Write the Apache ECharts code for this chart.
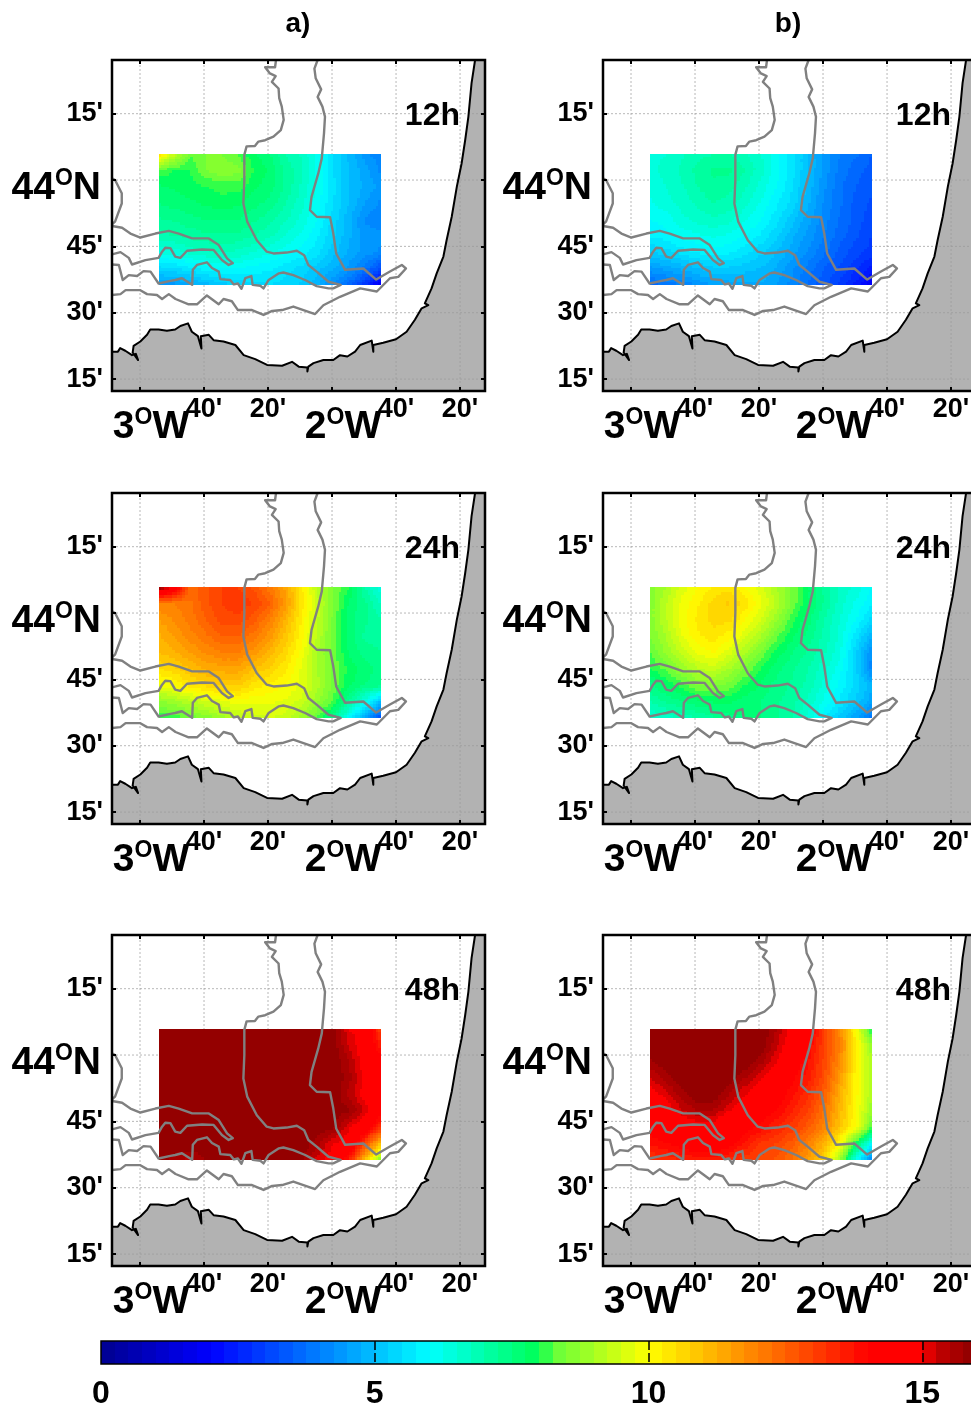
<!DOCTYPE html>
<html><head><meta charset="utf-8"><title>Chart</title>
<style>html,body{margin:0;padding:0;background:#fff;overflow:hidden}#c{width:971px;height:1408px;filter:blur(0.45px)}</style>
<script src="https://cdn.jsdelivr.net/npm/echarts@6/dist/echarts.min.js"></script>
</head><body><div id="c"></div>
<script>
// All map coordinates are arc-minutes east of 3 deg W and north of 44 deg N.
const lonMin = -8.75, lonMax = 107.8, latMin = -47.7, latMax = 27.14;
const lonTicks = [0, 20, 40, 60, 80, 100];
const lonTickLabels = ["", "40'", "20'", "", "40'", "20'"];
const lonDegTicks = [0, 60];
const lonDegLabels = ["3", "2"];
const latTicks = [15, 0, -15, -30, -45];
const latTickLabels = ["15'", "", "45'", "30'", "15'"];
const latDegTicks = [0];
const panelTitles = ["a)", "b)"];
const hourLabels = ["12h", "24h", "48h"];
const colorbarTicks = [0, 5, 10, 15];

const coast = [[-8.75,-38.8],[-6.9,-38.8],[-6.2,-38.0],[-4.6,-38.6],[-2.5,-39.6],[-1.3,-39.3],[-0.6,-40.7],[-2.3,-39.0],[-2.0,-37.5],[0.1,-36.5],[2.2,-35.0],[3.2,-33.8],[5.8,-33.8],[8.4,-34.1],[11.0,-33.8],[12.6,-33.0],[15.0,-32.4],[16.2,-34.3],[18.1,-35.3],[19.2,-38.1],[19.0,-35.3],[21.5,-35.0],[23.0,-36.2],[26.1,-36.5],[29.8,-37.3],[32.4,-39.6],[36.0,-40.5],[39.7,-41.8],[44.4,-42.0],[47.5,-41.1],[49.6,-42.2],[52.3,-42.4],[52.3,-43.3],[52.6,-42.2],[54.2,-41.4],[57.3,-40.7],[60.4,-40.7],[62.5,-39.6],[64.8,-39.9],[67.2,-38.8],[68.8,-37.3],[72.4,-36.3],[72.9,-38.8],[72.9,-37.3],[76.0,-36.8],[80.0,-36.0],[83.3,-34.3],[85.9,-31.6],[88.0,-29.0],[90.1,-28.3],[89.0,-27.9],[91.1,-24.5],[92.7,-21.1],[94.8,-17.3],[95.8,-13.6],[97.4,-8.3],[99.0,-1.5],[100.5,3.8],[101.6,9.0],[102.6,14.3],[103.6,21.9],[104.7,27.14]];
const landCorners = [[107.8,27.14],[107.8,-47.7],[-8.75,-47.7]];

const isobathA = [[42.5,27.14],[42.2,25.5],[39.1,25.5],[40.6,24.1],[42.4,23.5],[41.2,22.2],[43.3,20.7],[43.5,18.5],[44.3,16.6],[44.9,13.6],[44.0,11.3],[41.7,9.8],[39.1,9.0],[37.0,8.7],[35.9,7.7],[33.3,7.6],[32.6,5.7],[32.6,0],[32.3,-5.3],[33.5,-9.4],[36.5,-13.6],[39.6,-16.2],[41.7,-16.6],[45.8,-16.4],[49.0,-16.0],[51.3,-17.0],[52.6,-19.2],[55.2,-20.7],[58.9,-23.0],[62.7,-23.7],[60.4,-24.5],[58.9,-24.5],[55.2,-24.0],[51.6,-22.6],[47.9,-21.5],[44.8,-20.9],[43.4,-21.1],[40.2,-22.6],[38.6,-24.5],[37.6,-23.9],[35.2,-23.7],[34.8,-21.7],[32.9,-22.2],[31.7,-24.6],[30.6,-23.4],[29.3,-23.6],[28.2,-22.6],[25.1,-22.4],[24.6,-20.7],[22.5,-19.9],[20.9,-18.6],[17.8,-19.2],[16.5,-20.3],[16.3,-23.7],[13.1,-22.2],[11.0,-22.6],[9.5,-22.8],[5.8,-23.4],[3.3,-20.7],[1.1,-20.6],[-0.9,-21.7],[-3.5,-21.5],[-5.4,-22.6],[-6.6,-19.2],[-8.75,-19.1]];
const isobathB = [[55.5,27.14],[54.5,25.2],[54.9,23.0],[56.6,20.5],[55.5,18.8],[57.0,16.6],[57.8,14.3],[57.5,10.6],[56.8,4.9],[55.7,1.5],[53.6,-3.8],[53.1,-6.8],[55.2,-8.3],[59.4,-8.4],[60.4,-12.1],[61.3,-16.6],[64.1,-20.3],[69.8,-20.0],[73.8,-22.5],[78.1,-20.7],[81.8,-19.2],[83.1,-20.0],[80.7,-21.9],[78.1,-22.2],[74.0,-25.2],[68.8,-24.5],[62.5,-26.4],[57.3,-28.3],[54.7,-30.3],[47.9,-28.6],[44.4,-29.4],[41.3,-29.6],[38.6,-30.5],[35.0,-29.4],[30.6,-29.4],[28.7,-27.4],[26.1,-26.9],[24.6,-28.1],[20.9,-26.1],[17.8,-28.1],[15.2,-28.1],[11.1,-26.9],[9.0,-25.8],[6.9,-26.9],[5.3,-26.0],[2.2,-25.8],[0.1,-24.9],[-4.5,-24.9],[-6.1,-25.8],[-8.75,-26.0]];
const isobathC = [[-8.75,-10.0],[-7.8,-9.4],[-5.7,-5.3],[-5.7,-3.0],[-7.8,0],[-8.75,0.4]];
const isobathD = [[-8.75,-10.4],[-5.6,-10.8],[-3.0,-12.1],[0.1,-13.0],[4.8,-12.1],[9.0,-11.5],[12.1,-12.1],[16.3,-13.2],[21.5,-13.2],[24.6,-14.7],[27.2,-17.7],[29.0,-18.8],[27.7,-19.2],[25.6,-18.1],[23.0,-15.8],[19.4,-15.7],[14.7,-16.0],[12.6,-17.6],[11.0,-17.3],[9.5,-15.4],[7.9,-15.3],[6.9,-16.2],[5.8,-17.6],[1.7,-18.1],[-2.5,-19.1],[-3.5,-17.6],[-6.1,-16.3],[-8.75,-16.8]];

// Field nodes
const heatLon = [5.8,10.8,15.7,20.7,25.7,30.6,35.6,40.6,45.5,50.5,55.4,60.4,65.4,70.3,75.3];
const heatLat = [5.9,2.2,-1.5,-5.2,-9.0,-12.6,-16.3,-20.0,-23.8];

const fieldA12 = [
[10.6,9.3,8.3,8.5,8.5,8.2,7.8,7.5,7.0,6.7,6.2,5.5,4.9,4.4,4.0],
[8.2,8.0,8.0,8.5,8.7,8.6,8.0,7.7,7.2,6.8,6.2,5.5,5.0,4.6,4.2],
[7.7,7.8,7.9,8.0,8.1,8.1,7.8,7.6,7.2,6.7,6.2,5.6,5.0,4.7,4.4],
[7.5,7.6,7.7,7.8,7.9,7.8,7.6,7.4,7.0,6.6,6.1,5.5,5.0,4.5,4.2],
[7.2,7.3,7.4,7.5,7.5,7.5,7.3,7.1,6.8,6.4,6.0,5.4,4.8,4.2,4.1],
[6.9,7.0,7.1,7.2,7.2,7.2,7.0,6.8,6.5,6.2,5.8,5.3,4.8,4.4,4.3],
[6.3,6.4,6.6,6.7,6.8,6.7,6.5,6.3,6.1,5.9,5.6,5.1,4.7,4.4,4.2],
[5.4,5.5,5.7,5.9,6.0,6.0,5.9,5.8,5.6,5.4,5.1,4.8,4.4,3.9,3.2],
[4.4,4.4,4.6,4.9,5.1,5.3,5.4,5.5,5.4,5.2,4.8,4.2,3.6,2.8,1.6]];
const fieldB12 = [
[6.4,6.5,6.7,6.9,7.0,7.0,6.8,6.5,6.1,5.6,5.0,4.4,4.0,3.8,3.5],
[6.4,6.6,6.8,7.1,7.3,7.3,7.0,6.6,6.1,5.6,5.0,4.4,3.9,3.6,3.4],
[6.3,6.5,6.7,7.0,7.2,7.1,6.8,6.4,6.0,5.5,4.9,4.3,3.8,3.5,3.3],
[6.2,6.4,6.6,6.8,7.0,6.9,6.6,6.2,5.8,5.4,4.8,4.2,3.8,3.4,3.2],
[6.0,6.1,6.4,6.6,6.7,6.6,6.3,6.0,5.6,5.1,4.6,4.1,3.7,3.4,3.1],
[5.8,5.9,6.1,6.2,6.3,6.2,6.0,5.7,5.3,4.8,4.4,4.0,3.6,3.3,3.0],
[5.2,5.4,5.6,5.8,5.9,5.8,5.6,5.3,5.0,4.6,4.2,3.8,3.4,3.1,2.9],
[4.4,4.6,4.8,5.0,5.2,5.2,5.1,5.0,4.7,4.3,3.9,3.5,3.2,2.8,2.4],
[3.6,3.8,4.0,4.3,4.5,4.6,4.7,4.7,4.5,4.1,3.7,3.3,2.9,2.4,1.8]];
const fieldA24 = [
[16.0,14.8,12.3,12.7,13.0,13.0,12.7,12.1,11.4,10.3,9.2,8.5,8.0,7.0,6.3],
[12.0,12.0,12.2,12.7,13.0,13.2,13.0,12.5,11.6,10.4,9.4,8.5,7.7,7.3,6.7],
[11.5,11.8,12.1,12.5,12.9,12.9,12.6,12.0,11.2,10.2,9.3,8.4,7.6,7.3,7.0],
[11.2,11.5,11.9,12.2,12.5,12.5,12.1,11.6,10.9,10.1,9.2,8.4,7.6,7.2,7.0],
[11.0,11.2,11.5,11.8,12.0,12.0,11.6,11.1,10.6,9.9,9.0,8.4,7.7,7.4,7.3],
[10.5,10.7,11.0,11.3,11.4,11.4,11.0,10.7,10.3,9.7,9.0,8.4,7.9,7.6,7.4],
[9.8,10.0,10.4,10.6,10.8,10.8,10.4,10.2,10.0,9.7,9.1,8.4,7.8,7.5,7.4],
[8.7,8.9,9.2,9.5,9.7,9.9,9.8,9.8,9.7,9.4,8.8,8.2,7.2,6.3,5.0],
[8.0,8.1,8.3,8.6,8.9,9.2,9.4,9.5,9.4,8.9,8.2,7.3,5.9,4.6,3.2]];
const fieldB24 = [
[8.6,9.0,9.6,10.0,10.3,10.4,10.0,9.6,9.0,8.4,7.8,7.2,6.7,6.4,6.0],
[8.6,9.2,9.8,10.2,10.6,10.8,10.4,9.8,9.2,8.4,7.8,7.2,6.6,6.2,5.8],
[8.6,9.2,9.9,10.3,10.6,10.6,10.0,9.5,8.8,8.1,7.6,7.0,6.5,6.0,5.4],
[8.5,9.0,9.7,10.2,10.4,10.1,9.6,9.0,8.3,7.8,7.4,6.9,6.4,5.6,4.8],
[8.2,8.8,9.3,9.8,10.0,9.6,9.0,8.4,7.9,7.5,7.2,6.8,6.3,5.3,4.2],
[8.0,8.3,8.8,9.2,9.4,9.0,8.5,8.0,7.6,7.3,7.0,6.6,6.1,5.3,4.1],
[7.4,7.8,8.1,8.5,8.6,8.4,8.0,7.7,7.4,7.2,6.9,6.4,5.9,5.4,4.8],
[7.0,7.3,7.5,7.7,7.8,7.8,7.6,7.5,7.3,7.1,6.7,6.2,5.7,5.2,4.6],
[6.4,6.6,6.8,7.0,7.2,7.4,7.5,7.5,7.3,7.0,6.4,5.8,5.1,4.5,3.8]];
const fieldA48 = [
[16,16,16,16,16,16,16,16,16,16,16,15.9,15.0,14.8,13.0],
[16,16,16,16,16,16,16,16,16,16,16,15.9,15.2,14.7,13.6],
[16,16,16,16,16,16,16,16,16,16,16,16,15.5,14.7,14.2],
[16,16,16,16,16,16,16,16,16,16,16,16,15.6,14.9,14.3],
[16,16,16,16,16,16,16,16,16,16,16,16,15.4,14.8,14.2],
[16,16,16,16,16,16,16,16,16,16,16,16,15.8,15.2,14.4],
[16,16,16,16,16,16,16,16,16,16,16,15.8,15.0,14.6,13.2],
[16,16,16,16,16,16,16,16,16,16,15.6,15.0,14.8,13.0,11.0],
[16,15.6,15.4,15.8,16,16,16,16,16,15.8,15.1,14.8,13.6,11.0,8.5]];
const fieldB48 = [
[16,16,16,16,16,16,16,16,15.5,14.8,14.4,13.0,11.8,10.0,7.8],
[16,16,16,16,16,16,16,16,15.3,14.6,14.0,13.0,12.0,10.2,8.8],
[15.7,16,16,16,16,16,16,15.6,15.0,14.4,13.8,12.9,11.8,10.2,9.0],
[15.2,15.6,16,16,16,15.9,15.5,15.0,14.5,14.1,13.6,12.8,11.5,10.1,9.0],
[14.8,15.1,15.6,16,16,15.5,15.0,14.6,14.3,13.8,13.3,12.5,11.2,10.1,9.0],
[14.4,14.7,15.2,15.5,15.5,15.0,14.6,14.3,14.0,13.5,13.0,12.2,11.1,10.0,8.8],
[14.2,14.3,14.5,14.7,14.7,14.4,14.2,13.9,13.5,13.1,12.6,11.9,10.9,10.0,8.2],
[13.8,14.0,14.2,14.4,14.5,14.2,13.7,13.2,13.0,12.6,12.0,11.2,10.0,7.9,6.0],
[13.2,13.3,13.5,13.6,13.6,13.4,13.1,12.9,12.7,12.2,11.5,10.6,8.8,6.2,4.0]];
const fields = [[fieldA12, fieldB12], [fieldA24, fieldB24], [fieldA48, fieldB48]];

// Colour table: value, red, green, blue
const colorStops = [[0,0,0,143],[2,0,0,255],[6,0,255,255],[8,0,255,85],[8.25,100,255,60],[10,255,255,0],[14,255,0,0],[15,255,0,0],[15.25,195,0,0],[16,139,0,0]];
const levelSize = 0.25;

function levelColor(v) {
  const top = 16 - levelSize / 2;
  const q = Math.min(top, Math.floor(v / levelSize) * levelSize + levelSize / 2);
  for (let i = 1; i < colorStops.length; i++) {
    const a = colorStops[i - 1], b = colorStops[i];
    if (q <= b[0]) {
      const t = (q - a[0]) / (b[0] - a[0]);
      return 'rgb(' + [1, 2, 3].map(k => Math.round(a[k] + (b[k] - a[k]) * t)).join(',') + ')';
    }
  }
  return 'rgb(139,0,0)';
}

const FONT = '"Liberation Sans", Arial, sans-serif';
const rowTops = [60, 493, 935];
const colLefts = [112, 603];
const gridW = 373, gridH = 331;
const SUB = 6;

const grid = [], xAxis = [], yAxis = [], series = [], title = [];
const richDeg = {
  b: { fontFamily: FONT, fontWeight: 'bold', fontSize: 39, color: '#000', lineHeight: 42 },
  s: { fontFamily: FONT, fontWeight: 'bold', fontSize: 23, color: '#000', verticalAlign: 'top', lineHeight: 42, padding: [0, 0, 16, 0] }
};
const thick = { color: '#000', width: 2 };

function fieldRender(params, api) {
  const x0 = api.value(0), y0 = api.value(1), x1 = api.value(2), y1 = api.value(3);
  const v00 = api.value(4), v10 = api.value(5), v01 = api.value(6), v11 = api.value(7);
  const p0 = api.coord([x0, y0]), p1 = api.coord([x1, y1]);
  const children = [];
  for (let j = 0; j < SUB; j++) for (let i = 0; i < SUB; i++) {
    const u = (i + .5) / SUB, w = (j + .5) / SUB;
    const v = v00 * (1 - u) * (1 - w) + v10 * u * (1 - w) + v01 * (1 - u) * w + v11 * u * w;
    const xa = Math.round(p0[0] + (p1[0] - p0[0]) * i / SUB), xb = Math.round(p0[0] + (p1[0] - p0[0]) * (i + 1) / SUB);
    const ya = Math.round(p0[1] + (p1[1] - p0[1]) * j / SUB), yb = Math.round(p0[1] + (p1[1] - p0[1]) * (j + 1) / SUB);
    children.push({ type: 'rect', shape: { x: xa, y: ya, width: xb - xa, height: yb - ya }, style: { fill: levelColor(v) } });
  }
  return { type: 'group', children };
}

rowTops.forEach((top, r) => colLefts.forEach((left, c) => {
  const g = grid.length;
  grid.push({ left, top, width: gridW, height: gridH, show: true, borderColor: '#000', borderWidth: 2.5, backgroundColor: 'transparent', z: 20, outerBoundsMode: 'none' });
  const ax = g * 3, ay = g * 3;
  const xBase = { type: 'value', gridIndex: g, min: lonMin, max: lonMax, splitLine: { show: false }, axisLine: { show: false, onZero: false }, z: 21 };
  const yBase = { type: 'value', gridIndex: g, min: latMin, max: latMax, splitLine: { show: false }, axisLine: { show: false, onZero: false }, z: 21 };
  const tick = (vals) => ({ show: true, inside: true, length: 4, lineStyle: thick, customValues: vals });
  xAxis.push(Object.assign({}, xBase, { position: 'bottom', axisTick: tick(lonTicks),
    axisLabel: { show: true, customValues: lonTicks.filter((v, i) => lonTickLabels[i]), margin: 5, fontFamily: FONT, fontWeight: 'bold', fontSize: 27, color: '#000',
      formatter: v => lonTickLabels[lonTicks.indexOf(v)] } }));
  xAxis.push(Object.assign({}, xBase, { position: 'top', axisTick: tick(lonTicks), axisLabel: { show: false } }));
  xAxis.push(Object.assign({}, xBase, { position: 'bottom', axisTick: { show: false },
    axisLabel: { show: true, customValues: lonDegTicks, margin: 15, padding: [0, 0, 0, 22], rich: richDeg,
      formatter: v => '{b|' + lonDegLabels[lonDegTicks.indexOf(v)] + '}{s|O}{b|W}' } }));
  yAxis.push(Object.assign({}, yBase, { position: 'left', axisTick: tick(latTicks),
    axisLabel: { show: true, customValues: latTicks.filter((v, i) => latTickLabels[i]), margin: 9, padding: [6, 0, 0, 0], fontFamily: FONT, fontWeight: 'bold', fontSize: 27, color: '#000',
      formatter: v => latTickLabels[latTicks.indexOf(v)] } }));
  yAxis.push(Object.assign({}, yBase, { position: 'right', axisTick: tick(latTicks), axisLabel: { show: false } }));
  yAxis.push(Object.assign({}, yBase, { position: 'left', axisTick: { show: false },
    axisLabel: { show: true, customValues: latDegTicks, margin: 11, padding: [16, 0, 0, 0], rich: richDeg,
      formatter: () => '{b|44}{s|O}{b|N}' } }));

  const base = { xAxisIndex: ax, yAxisIndex: ay, silent: true, animation: false };
  // land
  series.push(Object.assign({}, base, { type: 'custom', z: 2, clip: true, data: coast.concat(landCorners), encode: { x: 0, y: 1 },
    renderItem: (params, api) => {
      if (params.dataIndex !== 0) return null;
      const pts = [];
      for (let i = 0; i < params.dataInsideLength; i++) pts.push(api.coord([api.value(0, i), api.value(1, i)]));
      return { type: 'polygon', shape: { points: pts }, style: { fill: '#b2b2b2' } };
    } }));
  // dotted graticule
  const gl = lonTicks.map(v => [v, latMin, v, latMax]).concat(latTicks.map(v => [lonMin, v, lonMax, v]));
  series.push(Object.assign({}, base, { type: 'custom', z: 3, clip: true, data: gl, encode: { x: [0, 2], y: [1, 3] },
    renderItem: (params, api) => {
      const a = api.coord([api.value(0), api.value(1)]), b = api.coord([api.value(2), api.value(3)]);
      return { type: 'line', shape: { x1: a[0], y1: a[1], x2: b[0], y2: b[1] }, style: { stroke: '#9a9a9a', lineWidth: 1, lineDash: [2, 2], opacity: .7 } };
    } }));
  // field
  const f = fields[r][c], cells = [];
  for (let j = 0; j < heatLat.length - 1; j++) for (let i = 0; i < heatLon.length - 1; i++)
    cells.push([heatLon[i], heatLat[j], heatLon[i + 1], heatLat[j + 1], f[j][i], f[j][i + 1], f[j + 1][i], f[j + 1][i + 1]]);
  series.push(Object.assign({}, base, { type: 'custom', z: 4, clip: true, data: cells, encode: { x: [0, 2], y: [1, 3] }, renderItem: fieldRender }));
  // isobaths and coast
  [isobathA, isobathB, isobathC, isobathD].forEach(line => series.push(Object.assign({}, base, { type: 'line', z: 5, data: line, showSymbol: false, symbol: 'none', clip: true,
    lineStyle: { color: '#808080', width: 2.4, join: 'round' } })));
  series.push(Object.assign({}, base, { type: 'line', z: 6, data: coast, showSymbol: false, symbol: 'none', clip: true, lineStyle: { color: '#000', width: 2, join: 'round' } }));

  title.push({ text: hourLabels[r], right: 971 - (left + 348), top: top + 40, padding: 0, textStyle: { fontFamily: FONT, fontWeight: 'bold', fontSize: 32, color: '#000' } });
}));

panelTitles.forEach((t, i) => title.push({ text: t, left: [298, 788][i], top: 10, padding: 0, textAlign: 'center', textStyle: { fontFamily: FONT, fontWeight: 'bold', fontSize: 28, color: '#000' } }));

// colour bar
const gb = grid.length, bx = xAxis.length, by = yAxis.length;
grid.push({ left: 101, top: 1341, width: 876, height: 23, show: true, borderColor: '#000', borderWidth: 1.5, backgroundColor: 'transparent', z: 20, outerBoundsMode: 'none' });
xAxis.push({ type: 'value', gridIndex: gb, min: 0, max: 16, axisLine: { show: false, onZero: false }, axisTick: { show: false }, z: 21,
  splitLine: { show: true, showMinLine: false, showMaxLine: false, lineStyle: { color: '#000', width: 1.5, type: [9, 3] } },
  axisLabel: { show: true, customValues: colorbarTicks, margin: 14, fontFamily: FONT, fontWeight: 'bold', fontSize: 32, color: '#000' }, interval: 5 });
yAxis.push({ type: 'value', gridIndex: gb, min: 0, max: 1, show: false });
const levels = [];
for (let i = 0; i < 64; i++) levels.push([i * levelSize, 0, (i + 1) * levelSize, 1]);
series.push({ type: 'custom', xAxisIndex: bx, yAxisIndex: by, z: 4, silent: true, animation: false, clip: true, data: levels, encode: { x: [0, 2], y: [1, 3] },
  renderItem: (params, api) => {
    const a = api.coord([api.value(0), api.value(3)]), b = api.coord([api.value(2), api.value(1)]);
    return { type: 'rect', shape: { x: Math.round(a[0]), y: a[1], width: Math.round(b[0]) - Math.round(a[0]), height: b[1] - a[1] }, style: { fill: levelColor(api.value(0) + levelSize / 2) } };
  } });

const chart = echarts.init(document.getElementById('c'), null, { renderer: 'canvas', width: 971, height: 1408 });
chart.setOption({ animation: false, backgroundColor: '#fff', title, grid, xAxis, yAxis, series });
</script></body></html>
